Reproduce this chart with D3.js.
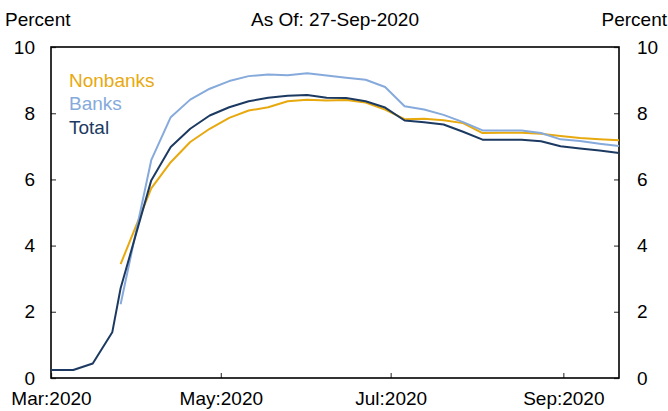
<!DOCTYPE html>
<html>
<head>
<meta charset="utf-8">
<script src="https://cdn.jsdelivr.net/npm/d3@7/dist/d3.min.js"></script>
<style>
  html, body { margin: 0; padding: 0; background: #fff; }
  svg { display: block; }
  text { font-family: "Liberation Sans", Arial, sans-serif; fill: #000; }
</style>
</head>
<body>
<svg id="chart" width="668" height="411"></svg>
<script>
// ---- Data ----
const totalDates = ["2020-03-01","2020-03-09","2020-03-16","2020-03-23","2020-03-26",
  "2020-04-06","2020-04-13","2020-04-20","2020-04-27","2020-05-04","2020-05-11","2020-05-18","2020-05-25",
  "2020-06-01","2020-06-08","2020-06-15","2020-06-22","2020-06-29","2020-07-06","2020-07-13","2020-07-20","2020-07-27",
  "2020-08-03","2020-08-10","2020-08-17","2020-08-24","2020-08-31","2020-09-07","2020-09-14","2020-09-21"];
const totalValues = [0.24,0.24,0.44,1.38,2.71,
  5.97,6.98,7.53,7.93,8.18,8.36,8.47,8.53,
  8.55,8.47,8.46,8.36,8.17,7.78,7.73,7.66,7.44,
  7.20,7.20,7.20,7.15,7.00,6.93,6.87,6.80];

const segDates = ["2020-03-26",
  "2020-04-06","2020-04-13","2020-04-20","2020-04-27","2020-05-04","2020-05-11","2020-05-18","2020-05-25",
  "2020-06-01","2020-06-08","2020-06-15","2020-06-22","2020-06-29","2020-07-06","2020-07-13","2020-07-20","2020-07-27",
  "2020-08-03","2020-08-10","2020-08-17","2020-08-24","2020-08-31","2020-09-07","2020-09-14","2020-09-21"];
const nonbankValues = [3.44,
  5.73,6.52,7.13,7.53,7.86,8.08,8.18,8.36,
  8.41,8.38,8.40,8.32,8.11,7.82,7.83,7.79,7.70,
  7.40,7.41,7.41,7.38,7.31,7.25,7.21,7.18];
const bankValues = [2.23,
  6.58,7.88,8.41,8.74,8.97,9.12,9.17,9.15,
  9.21,9.14,9.07,9.01,8.79,8.21,8.11,7.95,7.73,
  7.48,7.48,7.48,7.40,7.21,7.16,7.08,7.01];

const xTickDates = ["2020-03-01","2020-05-01","2020-07-01","2020-09-01"];
const xTickLabels = ["Mar:2020","May:2020","Jul:2020","Sep:2020"];
const yTicks = [0,2,4,6,8,10];

const seriesNames = ["Nonbanks","Banks","Total"];
const seriesColors = ["#E8A90F","#86AADB","#1C3A61"];

// ---- Layout ----
const parse = d3.timeParse("%Y-%m-%d");
const svg = d3.select("#chart");
const L = 51, R = 619, T = 47, B = 378;

const x = d3.scaleTime()
  .domain([parse("2020-03-01"), parse("2020-09-21")])
  .range([L, R]);
const y = d3.scaleLinear().domain([0, 10]).range([B, T]);

const fs = 19;

// Axis ticks (inward)
const yAxisL = d3.axisLeft(y).tickValues(yTicks).tickSize(-5).tickPadding(16).tickFormat(d3.format("d"));
const yAxisR = d3.axisRight(y).tickValues(yTicks).tickSize(-5).tickPadding(18).tickFormat(d3.format("d"));
const xAxis = d3.axisBottom(x).tickValues(xTickDates.map(parse)).tickSize(-5).tickPadding(16)
  .tickFormat((d, i) => xTickLabels[i]);

function styleAxis(g) {
  g.select(".domain").remove();
  g.selectAll(".tick line").attr("stroke", "#555").attr("stroke-width", 1.3);
  g.selectAll(".tick text").style("font-size", fs + "px").style("font-family", '"Liberation Sans", Arial, sans-serif').attr("fill", "#000");
}

svg.append("g").attr("transform", `translate(${L},0)`).call(yAxisL).call(styleAxis);
svg.append("g").attr("transform", `translate(${R},0)`).call(yAxisR).call(styleAxis);
const gx = svg.append("g").attr("transform", `translate(0,${B})`).call(xAxis).call(styleAxis);
gx.selectAll(".tick text").attr("dy", "0.71em").attr("y", 14);

// Frame
svg.append("rect").attr("x", L).attr("y", T).attr("width", R - L).attr("height", B - T)
  .attr("fill", "none").attr("stroke", "#000").attr("stroke-width", 1.6);

// Lines
const line = d3.line().x(d => x(d[0])).y(d => y(d[1]));
const seriesData = [
  segDates.map((d, i) => [parse(d), nonbankValues[i]]),
  segDates.map((d, i) => [parse(d), bankValues[i]]),
  totalDates.map((d, i) => [parse(d), totalValues[i]])
];
seriesData.forEach((data, i) => {
  svg.append("path").datum(data).attr("d", line)
    .attr("fill", "none").attr("stroke", seriesColors[i]).attr("stroke-width", 2)
    .attr("stroke-linejoin", "round");
});

// Legend
seriesNames.forEach((n, i) => {
  svg.append("text").attr("x", 69).attr("y", 87 + i * 23.3)
    .style("font-size", fs + "px").style("fill", seriesColors[i]).text(n);
});

// Titles
svg.append("text").attr("x", 5).attr("y", 26).style("font-size", fs + "px").text("Percent");
svg.append("text").attr("x", 667).attr("y", 26).attr("text-anchor", "end").style("font-size", fs + "px").text("Percent");
svg.append("text").attr("x", 335).attr("y", 26).attr("text-anchor", "middle").style("font-size", fs + "px").text("As Of: 27-Sep-2020");
</script>
</body>
</html>
